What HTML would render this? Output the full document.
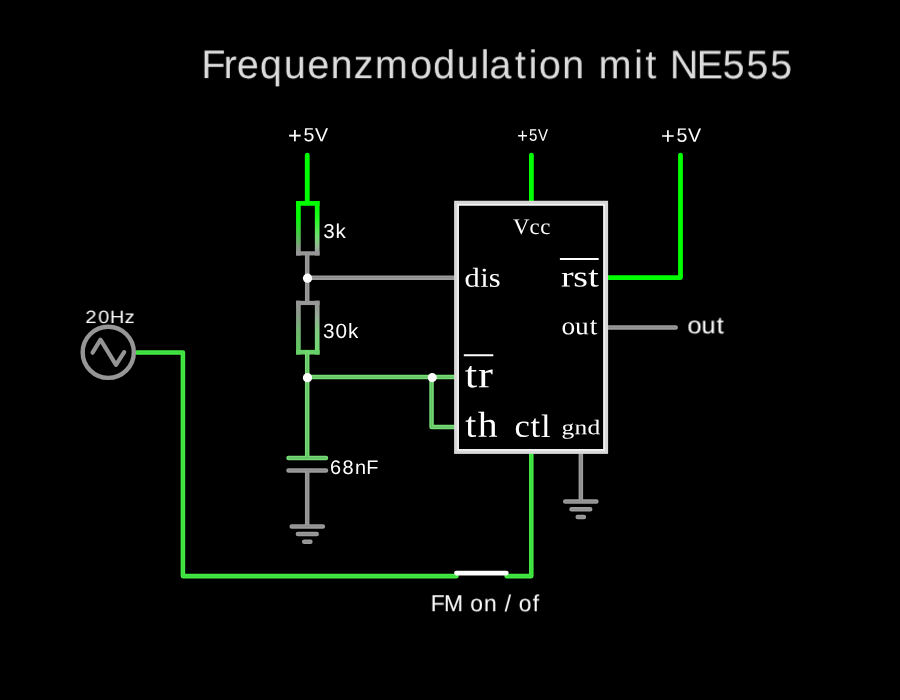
<!DOCTYPE html>
<html><head><meta charset="utf-8">
<style>
html,body{margin:0;padding:0;background:#000;}
body{width:900px;height:700px;overflow:hidden;}
svg{display:block;}
text{text-rendering:geometricPrecision;white-space:pre;}
.s{font-family:"Liberation Sans",sans-serif;}
.f{font-family:"Liberation Serif",serif;}
</style></head><body>
<svg width="900" height="700" viewBox="0 0 900 700">
<rect width="900" height="700" fill="#000"/>
<defs>
<linearGradient id="g1l" x1="0" y1="203" x2="0" y2="253" gradientUnits="userSpaceOnUse"><stop offset="0" stop-color="#00ff00"/><stop offset="0.3" stop-color="#08fa08"/><stop offset="0.65" stop-color="#4cc44c"/><stop offset="0.9" stop-color="#8a988a"/><stop offset="1" stop-color="#959595"/></linearGradient>
<linearGradient id="g1r" x1="0" y1="203" x2="0" y2="253" gradientUnits="userSpaceOnUse"><stop offset="0" stop-color="#00ff00"/><stop offset="0.3" stop-color="#20ff20"/><stop offset="0.65" stop-color="#6ee06e"/><stop offset="0.9" stop-color="#98b098"/><stop offset="1" stop-color="#959595"/></linearGradient>
<linearGradient id="g2l" x1="0" y1="302" x2="0" y2="352" gradientUnits="userSpaceOnUse"><stop offset="0" stop-color="#959595"/><stop offset="0.25" stop-color="#8a9a8a"/><stop offset="0.6" stop-color="#6fb86f"/><stop offset="1" stop-color="#60c860"/></linearGradient>
<linearGradient id="g2r" x1="0" y1="302" x2="0" y2="352" gradientUnits="userSpaceOnUse"><stop offset="0" stop-color="#959595"/><stop offset="0.25" stop-color="#98a898"/><stop offset="0.6" stop-color="#80cc80"/><stop offset="1" stop-color="#70da70"/></linearGradient>
<path id="wg" d="M307.2 254V302M307.2 277.72H455M307.2 470.4V526.4M608 327.38H675.7M580.85 454V501.6M288.5 470.4H326M291.7 526.4H322.9M297.9 534.05H316.7M304.2 541.7H310.4M565.2 501.6H596.4M571.5 509.25H590.2M577.7 516.9H583.9"/>
<path id="wl" d="M307.2 353V458M307.2 377.07H455M431.55 377.07V427.1H455M288.5 458H326"/>
<path id="wm" d="M531.3 454V576.1H506.6M456.5 576.1H182.9V352.45H137"/>
</defs>
<g fill="none" stroke-width="4.5" stroke-linecap="round" stroke-linejoin="round">
<!-- pure green wires -->
<path d="M307.25 155.2V203M531.4 155.2V201M608 277.55H680.5V155.2" stroke="#00ff00" stroke-width="4.8"/>
<!-- R1 -->
<path stroke-width="4.7" d="M298.4 203.4H317.2" stroke="#00ff00" stroke-linecap="square"/>
<path stroke-width="4.7" d="M298.4 203.4V253.2" stroke="url(#g1l)" stroke-linecap="square"/>
<path stroke-width="4.7" d="M317.2 203.4V253.2" stroke="url(#g1r)" stroke-linecap="square"/>
<path stroke-width="4.2" d="M298.15 253.35H317.45" stroke="#979797" stroke-linecap="square"/>
<!-- R2 -->
<path stroke-width="4.2" d="M298.15 302.95H317.45" stroke="#979797" stroke-linecap="square"/>
<path stroke-width="4.7" d="M298.4 303V352.2" stroke="url(#g2l)" stroke-linecap="square"/>
<path stroke-width="4.7" d="M317.2 303V352.2" stroke="url(#g2r)" stroke-linecap="square"/>
<path stroke-width="4.7" d="M298.4 352.2H317.2" stroke="#68d068" stroke-linecap="square"/>
<!-- two-tone wires -->
<use href="#wg" stroke="#9b9b9b"/><use href="#wg" stroke="#8d8d8d" stroke-width="1.2"/>
<use href="#wl" stroke="#74de74"/><use href="#wl" stroke="#64bc64" stroke-width="1.3"/>
<use href="#wm" stroke="#44ea44" stroke-width="4.55"/><use href="#wm" stroke="#3cda3c" stroke-width="1.2"/>
<!-- grounds -->

<!-- switch -->
<path d="M456.5 573.1H506.3" stroke="#fff" stroke-width="4.8"/>
<!-- AC source -->
<circle cx="108.25" cy="352.3" r="25.6" stroke="#969696" stroke-width="4.4"/>
<path d="M92.6 352.7L100.5 339.7L116 364.9L124.2 352.1" stroke="#949494" stroke-width="4.2"/>
<!-- chip -->
<rect x="456.5" y="203.15" width="149.2" height="248.35" stroke="#d8d8d8" stroke-width="4.8" stroke-linejoin="miter"/>
<rect x="458.1" y="204.75" width="146" height="245.15" stroke="#f6f6f6" stroke-width="1.5" stroke-linejoin="miter"/>
</g>
<g fill="#fff">
<circle cx="307.55" cy="278.2" r="4.65"/>
<circle cx="307.5" cy="377.7" r="4.65"/>
<circle cx="432.25" cy="377.6" r="4.55"/>
</g>
<g stroke="#fff" stroke-width="2" fill="none">
<path d="M559.9 259H598.7"/>
<path d="M463.8 355.25H493.3"/>
</g>

<g opacity="0.999">
<text class="s" font-size="40.13" fill="#dedede" x="204.56 227.05 240.55 263.98 288.24 312.12 335.86 359.10 380.81 416.41 439.85 464.10 488.20 496.98 522.99 536.95 547.14 570.88 593.20 607.97 643.92 655.41 666.56 680.32 707.52 733.81 757.99 782.16" y="77.80 77.80 77.80 77.80 77.80 77.80 77.80 77.80 77.80 77.80 77.80 77.80 77.80 77.80 77.80 77.80 77.80 77.80 77.80 77.80 77.80 77.80 77.80 77.80 77.80 77.80 77.80 77.80" transform="scale(0.9847 1) rotate(0.03)">Frequenzmodulation mit NE555</text>
<text class="s" font-size="19.01" fill="#fff" x="279.35 294.32 305.55" y="143.06 141.08 141.08" transform="scale(1.0312 1) rotate(0.03)"><tspan font-size="22.93">+</tspan>5V</text>
<text class="s" font-size="16.73" fill="#fff" x="573.67 586.83 596.71" y="142.25 140.51 140.51" transform="scale(0.9017 1) rotate(0.03)"><tspan font-size="20.17">+</tspan>5V</text>
<text class="s" font-size="19.44" fill="#fff" x="655.52 670.83 682.31" y="143.40 141.38 141.38" transform="scale(1.0085 1) rotate(0.03)"><tspan font-size="23.45">+</tspan>5V</text>
<text class="s" font-size="20.10" fill="#fff" x="315.69 327.85" y="237.77 237.77" transform="scale(1.0241 1) rotate(0.03)">3k</text>
<text class="s" font-size="20.57" fill="#fff" x="321.45 333.77 346.29" y="337.77 337.77 337.77" transform="scale(1.0057 1) rotate(0.03)">30k</text>
<text class="s" font-size="19.65" fill="#fff" x="325.66 337.91 350.20 361.24" y="473.78 473.78 473.78 473.78" transform="scale(1.0143 1) rotate(0.03)">68nF</text>
<text class="s" font-size="17.92" fill="#fff" x="76.71 87.99 98.57 111.75" y="323.28 323.28 323.28 323.28" transform="scale(1.1162 1) rotate(0.03)">20Hz</text>
<text class="s" font-size="23.77" fill="#fff" x="638.91 651.96 666.05" y="332.68 332.68 332.68" transform="scale(1.0762 1) rotate(0.03)">out</text>
<text class="s" font-size="23.22" fill="#fff" x="434.87 448.19 467.53 474.67 488.45 501.36 509.34 515.79 523.58 537.72" y="611.19 611.19 611.19 611.19 611.19 611.19 611.19 611.19 611.19 611.19" transform="scale(0.9913 1) rotate(0.03)">FM on / of</text>
<text class="f" font-size="22.33" fill="#fff" x="502.80 519.03 529.64" y="233.63 233.63 233.63" transform="scale(1.0203 1) rotate(0.03)">Vcc</text>
<text class="f" font-size="27.30" fill="#fff" x="416.30 430.39 437.97" y="286.59 286.59 286.59" transform="scale(1.1162 1) rotate(0.03)">dis</text>
<text class="f" font-size="29.59" fill="#fff" x="439.72 449.37 460.98" y="286.21 286.21 286.21" transform="scale(1.2764 1) rotate(0.03)">rst</text>
<text class="f" font-size="25.26" fill="#fff" x="517.63 530.25 543.79" y="333.97 333.97 333.97" transform="scale(1.0849 1) rotate(0.03)">out</text>
<text class="f" font-size="37.72" fill="#fff" x="392.19 403.44" y="387.12 387.12" transform="scale(1.1854 1) rotate(0.03)">tr</text>
<text class="f" font-size="36.17" fill="#fff" x="424.31 435.61" y="436.54 436.54" transform="scale(1.0973 1) rotate(0.03)">th</text>
<text class="f" font-size="32.45" fill="#fff" x="483.59 498.73 508.59" y="436.62 436.62 436.62" transform="scale(1.0642 1) rotate(0.03)">ctl</text>
<text class="f" font-size="20.98" fill="#fff" x="462.80 473.56 484.19" y="433.90 433.90 433.90" transform="scale(1.2137 1) rotate(0.03)">gnd</text>
</g>
</svg>
</body></html>
